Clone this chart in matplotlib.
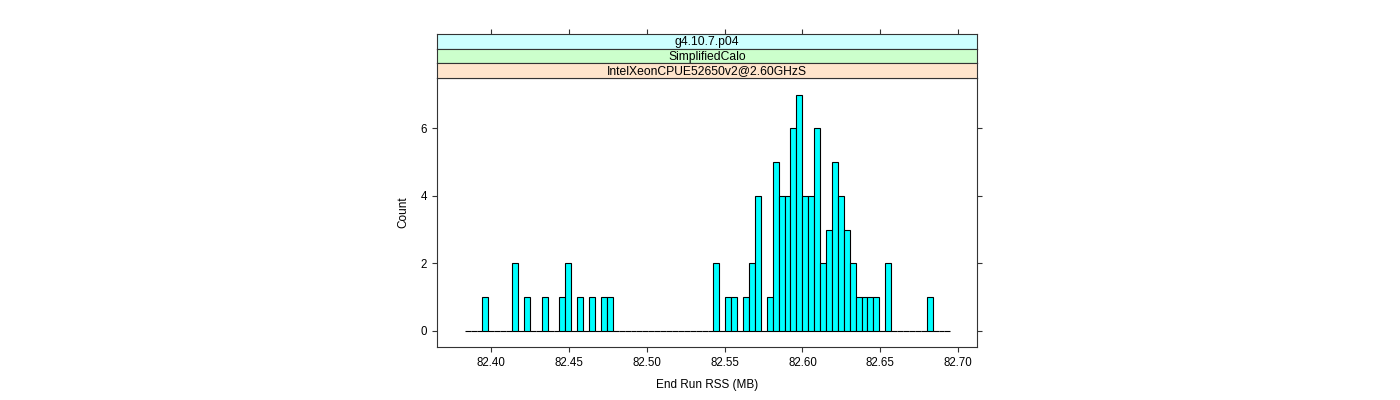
"""Lattice-style histogram of end run RSS."""
import numpy as np
import matplotlib
matplotlib.use('Agg')
import matplotlib.pyplot as plt

plt.rcParams['font.family'] = ['Liberation Sans', 'DejaVu Sans']

# Histogram data
BREAK_LO = 82.3829
BREAK_HI = 82.6951
NB_BINS = 82
BIN_INDEX = [3, 8, 10, 13, 16, 17, 19, 21, 23, 24,
             42, 44, 45, 47, 48, 49, 51, 52, 53, 54, 55, 56, 57, 58, 59,
             60, 61, 62, 63, 64, 65, 66, 67, 68, 69, 71, 78]
BIN_COUNT = [1, 2, 1, 1, 1, 2, 1, 1, 1, 1,
             2, 1, 1, 1, 2, 4, 1, 5, 4, 4, 6, 7, 4, 4, 6,
             2, 3, 5, 4, 3, 2, 1, 1, 1, 1, 2, 1]

X_TICKS = [82.40, 82.45, 82.50, 82.55, 82.60, 82.65, 82.70]
Y_TICKS = [0, 2, 4, 6]
STRIPS = ['g4.10.7.p04', 'SimplifiedCalo', 'IntelXeonCPUE52650v2@2.60GHzS']
STRIP_COLORS = ['#ccffff', '#ccffcc', '#ffe5cc']

X_LIM = (82.3653, 82.7122)
Y_LIM = (-0.49, 7.49)

breaks = np.linspace(BREAK_LO, BREAK_HI, NB_BINS + 1)
counts = np.zeros(NB_BINS)
for idx, c in zip(BIN_INDEX, BIN_COUNT):
    counts[idx] = c

W, H = 1400, 400
fig = plt.figure(figsize=(W / 100, H / 100), dpi=100)

FRAME = '#333333'
FS = 8.3

def fig_box(x0, y0, x1, y1):
    return [x0 / W, 1 - y1 / H, (x1 - x0) / W, (y1 - y0) / H]

# Main panel
ax = fig.add_axes(fig_box(437.3, 78, 977, 347.3))
ax.bar(breaks[:-1], counts, width=np.diff(breaks), align='edge',
       color='#00ffff', edgecolor='black', linewidth=0.8)
ax.set_xlim(*X_LIM)
ax.set_ylim(*Y_LIM)
ax.set_xticks(X_TICKS)
ax.set_xticklabels([f'{t:.2f}' for t in X_TICKS], fontsize=FS)
ax.set_yticks(Y_TICKS)
ax.set_yticklabels([str(t) for t in Y_TICKS], fontsize=FS)
ax.tick_params(axis='both', direction='out', length=3.8, width=0.8, color=FRAME, pad=3.5)
ax.tick_params(axis='y', right=True, left=True)
for s in ax.spines.values():
    s.set_color(FRAME)
    s.set_linewidth(0.8)
ax.set_xlabel('End Run RSS (MB)', fontsize=8.5, labelpad=7)
ax.set_ylabel('Count', fontsize=8.5, labelpad=8)

# Strips
strip_top = 34.0
strip_h = 14.67
for i, (label, col) in enumerate(zip(STRIPS, STRIP_COLORS)):
    y0 = strip_top + i * strip_h
    sax = fig.add_axes(fig_box(437.3, y0, 977, y0 + strip_h))
    sax.set_facecolor(col)
    sax.set_xlim(*X_LIM)
    sax.set_ylim(0, 1)
    sax.set_yticks([])
    if i == 0:
        sax.set_xticks(X_TICKS)
        sax.tick_params(axis='x', top=True, bottom=False, labeltop=False,
                        labelbottom=False, direction='out', length=3.8,
                        width=0.8, color=FRAME)
    else:
        sax.set_xticks([])
    for s in sax.spines.values():
        s.set_color(FRAME)
        s.set_linewidth(0.8)
    sax.text(0.5, 0.45, label, transform=sax.transAxes, ha='center',
             va='center', fontsize=8.7)

fig.savefig('out.png', dpi=100)
